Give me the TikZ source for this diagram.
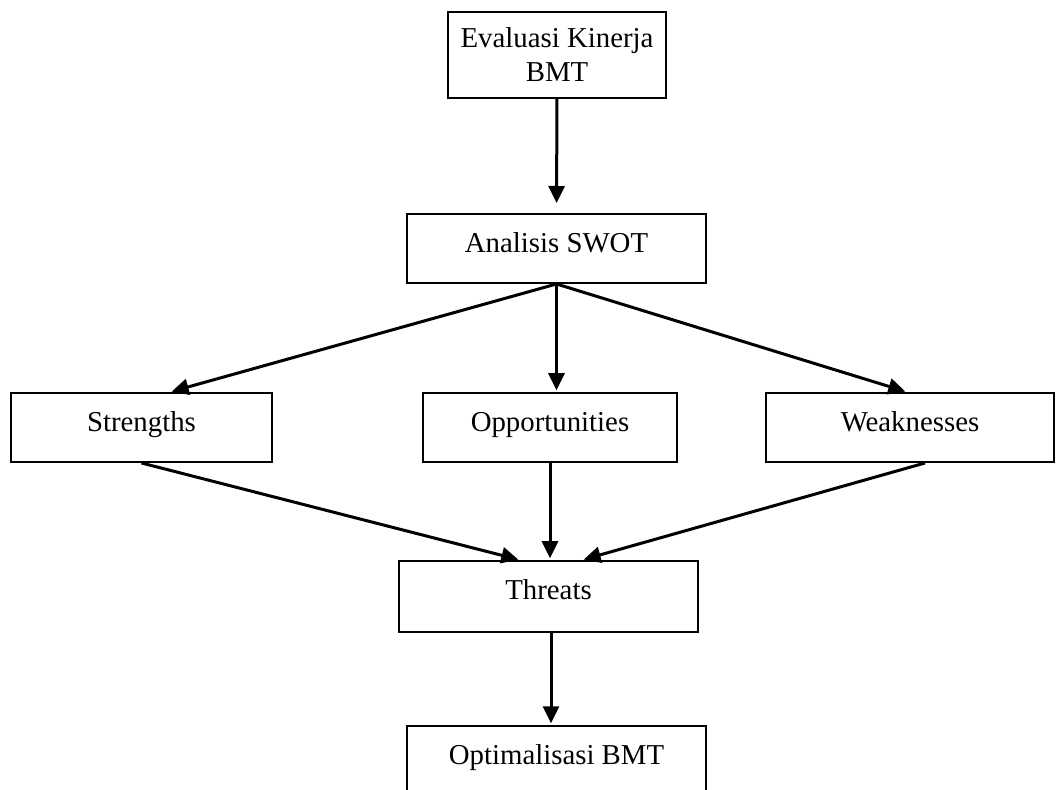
\documentclass[tikz,border=0pt]{standalone}
\usepackage{fontspec}
\setmainfont{Liberation Serif}
\usepackage{tikz}
\usetikzlibrary{positioning,arrows.meta}

\begin{document}
\begin{tikzpicture}[x=0.02cm,y=-0.02cm,
	box/.style={draw,line width=0.04cm,inner xsep=0pt,inner ysep=0pt,text height=0.78cm,text depth=0.6cm,font=\fontsize{16.4}{19.3}\selectfont},
	flow/.style={line width=0.06cm,-{Triangle[length=0.34cm,width=0.32cm]}}]
				\useasboundingbox (0,0) rectangle (1058,790);
				% Top of the chart
				\node [draw,line width=0.04cm,align=center,minimum width=4.36cm,minimum height=1.72cm,inner sep=0pt,font=\fontsize{16.4}{19.3}\selectfont] (eval) at (557,55) {Evaluasi Kinerja\\BMT};
				\node [box,minimum width=5.98cm] (swot) at (556.5,213) [anchor=north] {Analisis SWOT};
				% SWOT factors
				\node [box,minimum width=5.22cm] (str) at (141.5,392) [anchor=north] {Strengths};
				\node [box,minimum width=5.08cm] (opp) at (550,392) [anchor=north] {Opportunities};
				\node [box,minimum width=5.76cm] (weak) at (910,392) [anchor=north] {Weaknesses};
				\node [box,minimum width=5.98cm,text depth=0.64cm] (thr) at (548.5,560) [anchor=north] {Threats};
				\node [box,minimum width=5.98cm] (opt) at (556.5,725) [anchor=north] {Optimalisasi BMT};
				% Connectors
				\path[flow] (eval) edge[shorten >=0.2cm] (swot);
				\path[flow] (swot.south) edge[shorten >=1pt] ([xshift=0.57cm]str.north);
				\path[flow] (swot.south) edge[shorten >=1pt] (swot.south |- opp.north);
				\path[flow] (swot.south) edge[shorten >=1pt] ([xshift=-0.06cm]weak.north);
				\path[flow] (str.south) edge[shorten >=1pt] ([xshift=-0.57cm]thr.north);
				\path[flow] (opp.south) edge[shorten >=1pt] (opp.south |- thr.north);
				\path[flow] ([xshift=0.3cm]weak.south) edge[shorten >=1pt] ([xshift=0.67cm]thr.north);
				\path[flow] ([xshift=0.05cm]thr.south) edge[shorten >=1pt] ([xshift=0.05cm]thr.south |- opt.north);
\end{tikzpicture}
\end{document}
